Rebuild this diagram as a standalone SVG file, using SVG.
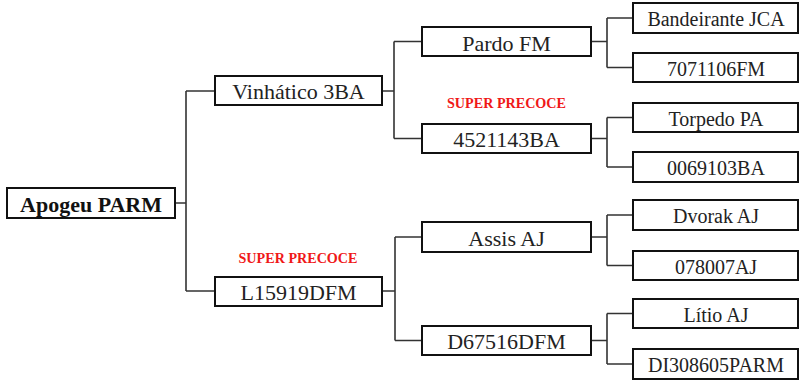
<svg xmlns="http://www.w3.org/2000/svg" width="800" height="382" viewBox="0 0 800 382">
<style>
.box{fill:#fff;stroke:#111;stroke-width:2}
.t{font-family:"Liberation Serif","Times New Roman",serif;font-size:22px;fill:#222;text-anchor:middle}
.t3{font-family:"Liberation Serif","Times New Roman",serif;font-size:20px;fill:#222;text-anchor:middle}
.root{font-family:"Liberation Serif","Times New Roman",serif;font-size:22px;font-weight:bold;fill:#111;text-anchor:middle}
.sp{font-family:"Liberation Serif","Times New Roman",serif;font-size:15px;font-weight:bold;fill:#f01818;text-anchor:middle}
.c{fill:none;stroke:#333;stroke-width:1.6}
</style>
<rect width="800" height="382" fill="#fff"/>
<g id="connectors">
<path class="c" d="M175,203H186M186,91V291M186,91H215M186,291H215"/>
<path class="c" d="M382,91H394M394,41.5V138.5M394,41.5H422M394,138.5H422"/>
<path class="c" d="M382,291H395M395,237V340.5M395,237H422M395,340.5H422"/>
<path class="c" d="M591,41.5H607M607,18V67.5M607,18H633M607,67.5H633"/>
<path class="c" d="M591,138.5H607M607,117.5V167M607,117.5H633M607,167H633"/>
<path class="c" d="M591,237H607M607,215V265.5M607,215H633M607,265.5H633"/>
<path class="c" d="M591,340.5H607M607,313.5V364M607,313.5H633M607,364H633"/>
</g>
<g id="n-apogeu"><rect class="box" x="7" y="188" width="168" height="30"/><text class="root" x="91" y="212">Apogeu PARM</text></g>
<g id="n-vinhatico"><rect class="box" x="215" y="76" width="167" height="29"/><text class="t" x="298.5" y="99">Vinhático 3BA</text></g>
<g id="n-l15919"><rect class="box" x="215" y="277" width="167" height="29"/><text class="t" x="298.5" y="300">L15919DFM</text></g>
<text class="sp" x="298" y="263" textLength="119" lengthAdjust="spacingAndGlyphs">SUPER PRECOCE</text>
<g id="n-pardo"><rect class="box" x="422" y="27" width="169" height="29"/><text class="t" x="506.5" y="50.5">Pardo FM</text></g>
<g id="n-4521143"><rect class="box" x="422" y="124" width="169" height="29"/><text class="t" x="506.5" y="147">4521143BA</text></g>
<text class="sp" x="506.5" y="108" textLength="119" lengthAdjust="spacingAndGlyphs">SUPER PRECOCE</text>
<g id="n-assis"><rect class="box" x="422" y="222" width="169" height="30"/><text class="t" x="506.5" y="245.5">Assis AJ</text></g>
<g id="n-d67516"><rect class="box" x="422" y="326" width="169" height="29"/><text class="t" x="506.5" y="349">D67516DFM</text></g>
<g id="n-bandeirante"><rect class="box" x="633" y="3" width="165" height="30"/><text class="t3" x="716" y="26">Bandeirante JCA</text></g>
<g id="n-7071106"><rect class="box" x="633" y="53" width="165" height="29"/><text class="t3" x="716" y="75.5">7071106FM</text></g>
<g id="n-torpedo"><rect class="box" x="633" y="103" width="165" height="29"/><text class="t3" x="716" y="125.5">Torpedo PA</text></g>
<g id="n-0069103"><rect class="box" x="633" y="152" width="165" height="30"/><text class="t3" x="716" y="175">0069103BA</text></g>
<g id="n-dvorak"><rect class="box" x="633" y="200" width="165" height="30"/><text class="t3" x="716" y="223">Dvorak AJ</text></g>
<g id="n-078007"><rect class="box" x="633" y="251" width="165" height="29"/><text class="t3" x="716" y="273.5">078007AJ</text></g>
<g id="n-litio"><rect class="box" x="633" y="299" width="165" height="29"/><text class="t3" x="716" y="321.5">Lítio AJ</text></g>
<g id="n-di308605"><rect class="box" x="633" y="349" width="165" height="30"/><text class="t3" x="716" y="372">DI308605PARM</text></g>
</svg>
